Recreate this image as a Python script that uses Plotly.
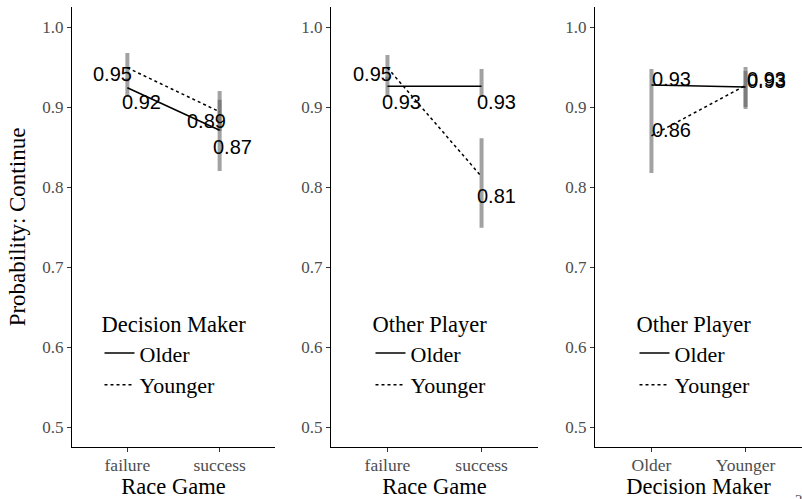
import plotly.graph_objects as go

# ---------------- data ----------------
race_cats = ["failure", "success"]
dm_cats = ["Older", "Younger"]
groups = ["Older", "Younger"]

# Panel 1: by Decision Maker, x = Race Game
p1_older = [0.924, 0.871]
p1_younger = [0.949, 0.894]
p1_older_lo = [0.9125, 0.820]
p1_older_hi = [0.936, 0.909]
p1_younger_lo = [0.932, 0.870]
p1_younger_hi = [0.9675, 0.920]

# Panel 2: by Other Player, x = Race Game
p2_older = [0.926, 0.926]
p2_younger = [0.949, 0.813]
p2_older_lo = [0.9125, 0.9125]
p2_older_hi = [0.938, 0.9475]
p2_younger_lo = [0.935, 0.749]
p2_younger_hi = [0.965, 0.861]

# Panel 3: by Other Player, x = Decision Maker
p3_older = [0.9275, 0.925]
p3_younger = [0.864, 0.927]
p3_older_lo = [0.900, 0.8975]
p3_older_hi = [0.9475, 0.950]
p3_younger_lo = [0.8175, 0.900]
p3_younger_hi = [0.900, 0.945]

x_titles = ["Race Game", "Race Game", "Decision Maker"]
legend_titles = ["Decision Maker", "Other Player", "Other Player"]
y_title = "Probability: Continue"
y_ticks = [0.5, 0.6, 0.7, 0.8, 0.9, 1.0]

# ---------------- style ----------------
W, H = 802, 499
SERIF = "Liberation Serif"
SANS = "Liberation Sans"
xdoms = [[72 / W, 275 / W], [331 / W, 538 / W], [595 / W, 1.0]]
ydom = [52 / H, 492 / H]
bar_col = "rgba(95,95,95,0.58)"
dashes = {"Older": "solid", "Younger": "3px,3px"}
# label offsets (px) per panel: [[older...], [younger...]]
label_shift = [
    [[(14, -14), (13, -17)], [(-15, -6), (-13, -9)]],
    [[(14, -16), (15, -16)], [(-15, -6), (15, -19)]],
    [[(20, 6), (21, 6)], [(20, 6), (21, 6)]],
]
legend_pos = [(99.5 / W, 1 - 303 / H), (370.5 / W, 1 - 303 / H), (634.5 / W, 1 - 303 / H)]

panels = [
    (race_cats, [p1_older, p1_younger], [p1_older_lo, p1_younger_lo], [p1_older_hi, p1_younger_hi]),
    (race_cats, [p2_older, p2_younger], [p2_older_lo, p2_younger_lo], [p2_older_hi, p2_younger_hi]),
    (dm_cats, [p3_older, p3_younger], [p3_older_lo, p3_younger_lo], [p3_older_hi, p3_younger_hi]),
]

fig = go.Figure()
annotations = []
layout = {}
for i, (cats, vals, los, his) in enumerate(panels):
    k = "" if i == 0 else str(i + 1)
    xref, yref = "x" + k, "y" + k
    leg = "legend" + k
    # error bars
    for g, v, lo, hi in zip(groups, vals, los, his):
        fig.add_trace(go.Scatter(
            x=cats, y=v, xaxis=xref, yaxis=yref, mode="markers",
            marker=dict(size=1, color="rgba(0,0,0,0)"), showlegend=False, hoverinfo="skip",
            error_y=dict(type="data", symmetric=False,
                         array=[h - a for h, a in zip(hi, v)],
                         arrayminus=[a - l for a, l in zip(v, lo)],
                         color=bar_col, thickness=4, width=0),
        ))
    # lines
    for g, v in zip(groups, vals):
        fig.add_trace(go.Scatter(
            x=cats, y=v, xaxis=xref, yaxis=yref, mode="lines", name=g,
            line=dict(color="black", width=1.5, dash=dashes[g]),
            legend=leg, showlegend=True,
        ))
    # value labels
    for gi, v in enumerate(vals):
        for ci, c in enumerate(cats):
            dx, dy = label_shift[i][gi][ci]
            annotations.append(dict(
                x=c, y=v[ci], xref=xref, yref=yref, text=f"{v[ci]:.2f}", showarrow=False,
                xshift=dx, yshift=dy, font=dict(family=SANS, size=20, color="black"),
            ))
    layout["xaxis" + k] = dict(
        domain=xdoms[i], anchor=yref, type="category", categoryorder="array", categoryarray=cats,
        range=[-0.6, 1.6], showline=True, linecolor="black", linewidth=1.3, automargin=False,
        ticks="outside", ticklen=4, tickcolor="#333333", tickwidth=1, ticklabelstandoff=-2,
        tickfont=dict(family=SERIF, size=17.5, color="#4d4d4d"), showgrid=False, zeroline=False,
        title=dict(text=x_titles[i], font=dict(family=SERIF, size=22.5, color="black"), standoff=1),
    )
    layout["yaxis" + k] = dict(
        domain=ydom, anchor=xref, range=[0.475, 1.025], tickvals=y_ticks, tickformat=".1f",
        showline=True, linecolor="black", linewidth=1.3, automargin=False,
        ticks="outside", ticklen=4, tickcolor="#333333", tickwidth=1,
        tickfont=dict(family=SERIF, size=17, color="#4d4d4d"), showgrid=False, zeroline=False,
        title=dict(text=y_title if i == 0 else "", font=dict(family=SERIF, size=23, color="black"), standoff=10),
    )
    layout[leg] = dict(
        x=legend_pos[i][0], y=legend_pos[i][1], xanchor="left", yanchor="top",
        bgcolor="rgba(0,0,0,0)", borderwidth=0,
        title=dict(text=legend_titles[i], font=dict(family=SERIF, size=22.5, color="black")),
        font=dict(family=SERIF, size=22, color="black"), tracegroupgap=0,
    )

annotations.append(dict(x=793 / W, y=1 - 490 / H, xref="paper", yref="paper", xanchor="left", yanchor="top",
                        text="2", showarrow=False, font=dict(family=SERIF, size=15, color="#4d4d4d")))

fig.update_layout(
    width=W, height=H, margin=dict(l=0, r=0, t=0, b=0),
    plot_bgcolor="white", paper_bgcolor="white", annotations=annotations, **layout,
)
fig.write_html("out.html", config={"displayModeBar": False},
               post_script="document.body.style.margin='0';")
